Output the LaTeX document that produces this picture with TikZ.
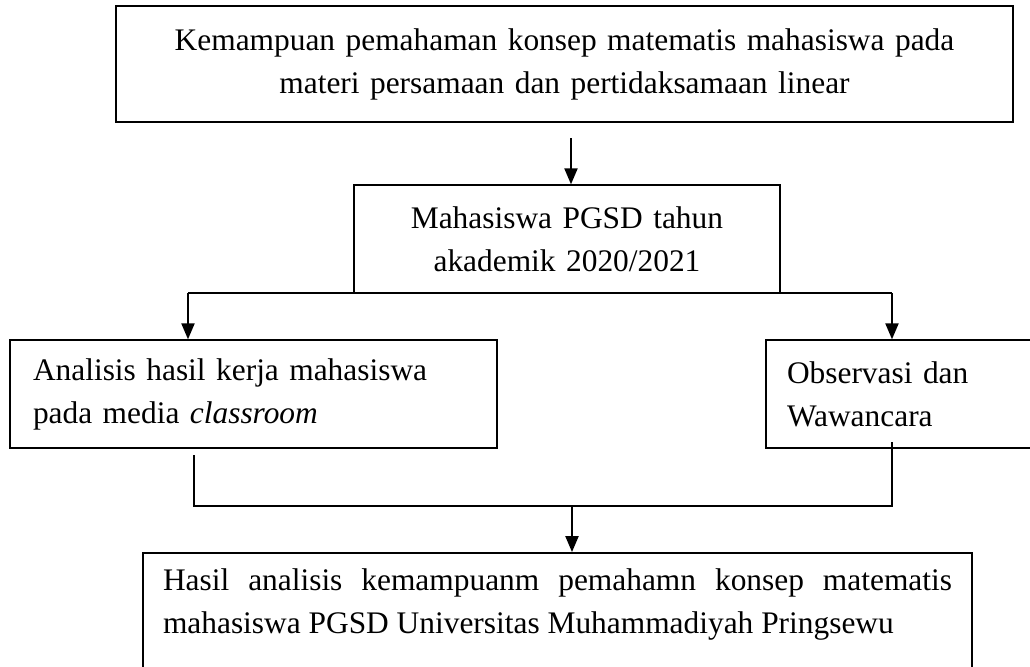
\documentclass[tikz,border=0pt]{standalone}
\usepackage{fontspec}
\setmainfont{Liberation Serif}
\usetikzlibrary{arrows.meta,calc,positioning}

\tikzset{
  kotak/.style={draw, line width=0.75pt, inner xsep=10pt, inner ysep=0pt,
    font=\fontsize{15.7}{21.5}\selectfont},
  garis/.style={line width=0.85pt},
  panah/.style={garis, -{Triangle[length=8pt,width=6.6pt]}}
}

\begin{document}
\begin{tikzpicture}[x=0.5pt,y=-0.5pt]
  \useasboundingbox (0,0) rectangle (1030,666);
  \clip (0,0) rectangle (1030,666);
  % Kotak-kotak
  \node[kotak, text width=428.5pt, align=center, minimum height=58pt] (konsep) at (564.5,64)
    {Kemampuan pemahaman konsep matematis mahasiswa pada\\ materi persamaan dan pertidaksamaan linear};
  \node[kotak, text width=193pt, align=center, minimum height=54pt] (mahasiswa) at (567,239)
    {Mahasiswa PGSD tahun\\ akademik 2020/2021};
  \node[kotak, inner xsep=11.5pt, text width=220.5pt, align=left, minimum height=54pt] (analisis) at (253.5,394)
    {Analisis hasil kerja mahasiswa\\ pada media \textit{classroom}};
  \node[kotak, inner xsep=10.5pt, text width=116pt, align=left, minimum height=54pt] (observasi) at (903,394)
    {Observasi dan\\ Wawancara};
  \node[kotak, inner ysep=8pt, anchor=north] (hasil) at (557.5,552)
    {\parbox[t][62pt][t]{394.5pt}{\tolerance=10000 \hyphenpenalty=10000 Hasil analisis kemampuanm pemahamn konsep matematis\linebreak mahasiswa PGSD Universitas Muhammadiyah Pringsewu}};
  % Penghubung
  \coordinate (atas) at (571,138);
  \draw[panah] (atas) -- (atas |- mahasiswa.north);
  \coordinate (cabangKiri) at (188,293);
  \coordinate (cabangKanan) at (892,293);
  \draw[garis] (cabangKiri) -- (cabangKanan);
  \draw[panah] (cabangKiri) -- (cabangKiri |- analisis.north);
  \draw[panah] (cabangKanan) -- (cabangKanan |- observasi.north);
  \coordinate (dariKiri) at (194,455);
  \coordinate (dariKanan) at (892,442);
  \coordinate (gabung) at (572,506);
  \draw[garis] (dariKiri) -- (dariKiri |- gabung) -- (gabung -| dariKanan) -- (dariKanan);
  \draw[panah] (gabung) -- (gabung |- hasil.north);
\end{tikzpicture}
\end{document}
